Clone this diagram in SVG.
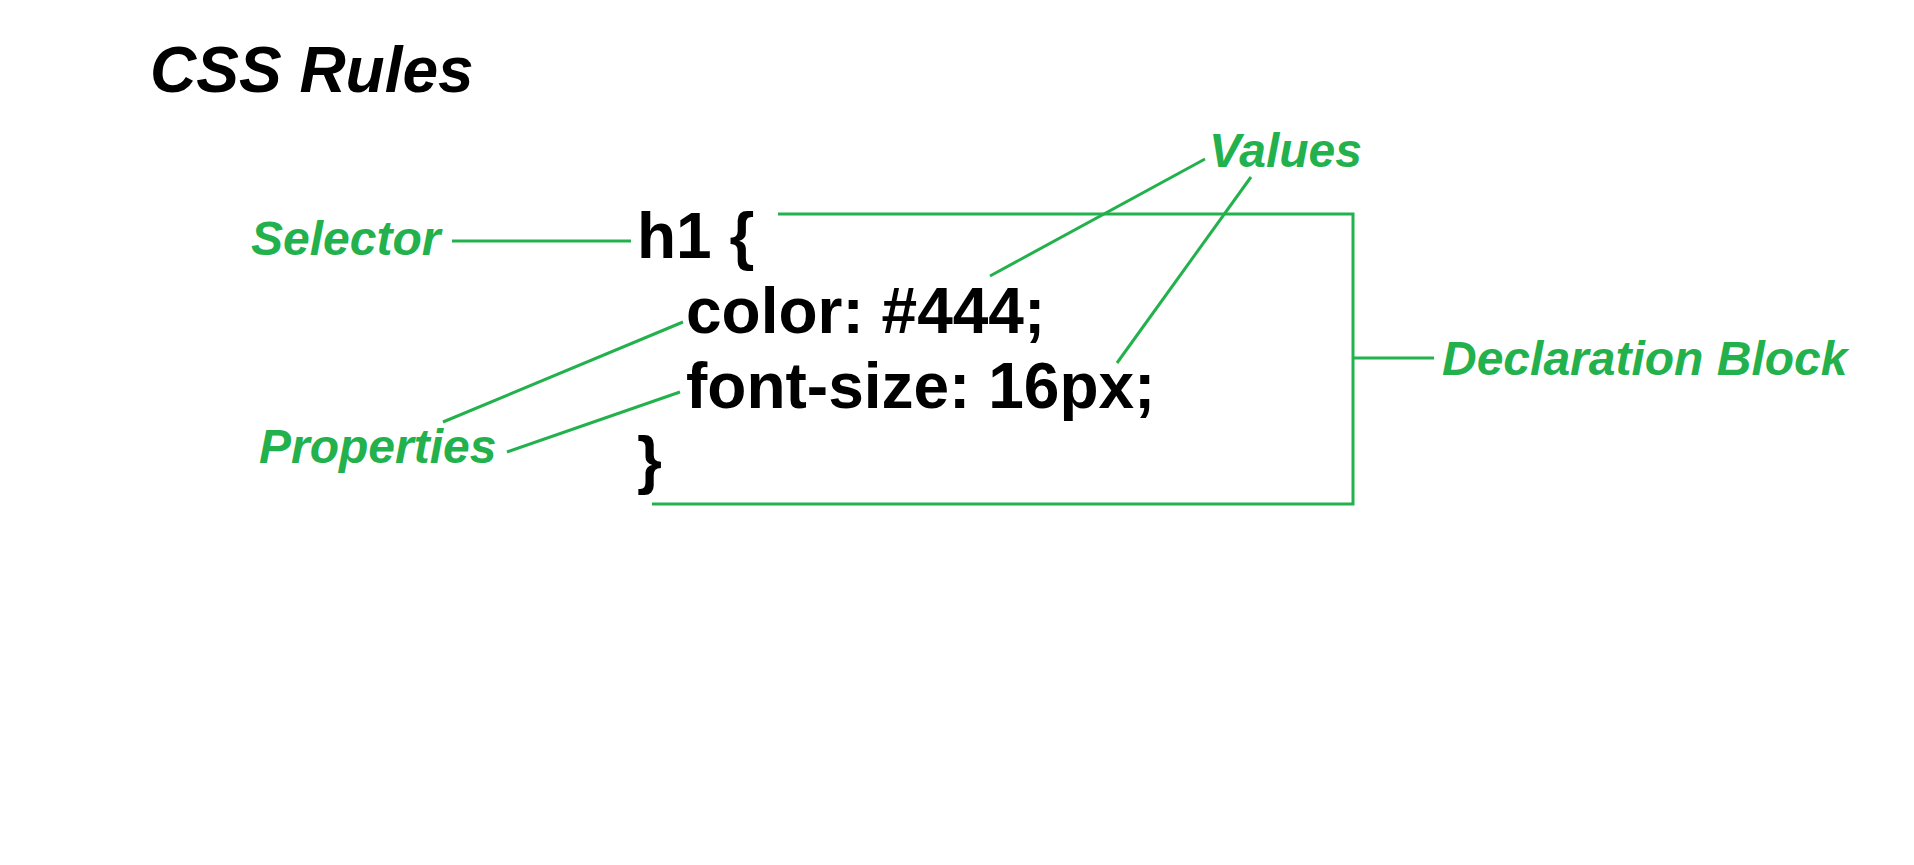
<svg xmlns="http://www.w3.org/2000/svg" width="1914" height="865" viewBox="0 0 1914 865">
<style>
.code{font-family:"Liberation Sans",Arial,sans-serif;font-weight:bold;font-size:64px;fill:#000}
.lbl{font-family:"Liberation Sans",Arial,sans-serif;font-weight:bold;font-style:italic;font-size:48px;fill:#22b14c}
.title{font-family:"Liberation Sans",Arial,sans-serif;font-weight:bold;font-style:italic;font-size:64px;fill:#000}
.ln{stroke:#22b14c;stroke-width:3;fill:none}
</style>
<rect width="1914" height="865" fill="#fff"/>
<g id="title"><text class="title" x="150" y="92">CSS Rules</text></g>
<g id="code">
<text class="code" x="637" y="258">h1 {</text>
<text class="code" x="686" y="333">color: #444;</text>
<text class="code" x="686" y="408">font-size: 16px;</text>
<text class="code" x="637" y="482">}</text>
</g>
<g id="selector"><text class="lbl" x="251" y="255">Selector</text></g>
<g id="values"><text class="lbl" x="1209" y="167">Values</text></g>
<g id="properties"><text class="lbl" x="259" y="463">Properties</text></g>
<g id="declaration-block"><text class="lbl" x="1442" y="375">Declaration Block</text></g>
<g id="connectors">
<line class="ln" x1="452" y1="241" x2="631" y2="241"/>
<line class="ln" x1="990" y1="276" x2="1205" y2="159"/>
<line class="ln" x1="1117" y1="363" x2="1251" y2="177"/>
<line class="ln" x1="443" y1="422" x2="683" y2="322"/>
<line class="ln" x1="507" y1="452" x2="680" y2="392"/>
<polyline class="ln" points="778,214 1353,214 1353,504 652,504"/>
<line class="ln" x1="1353" y1="358" x2="1434" y2="358"/>
</g>
</svg>
